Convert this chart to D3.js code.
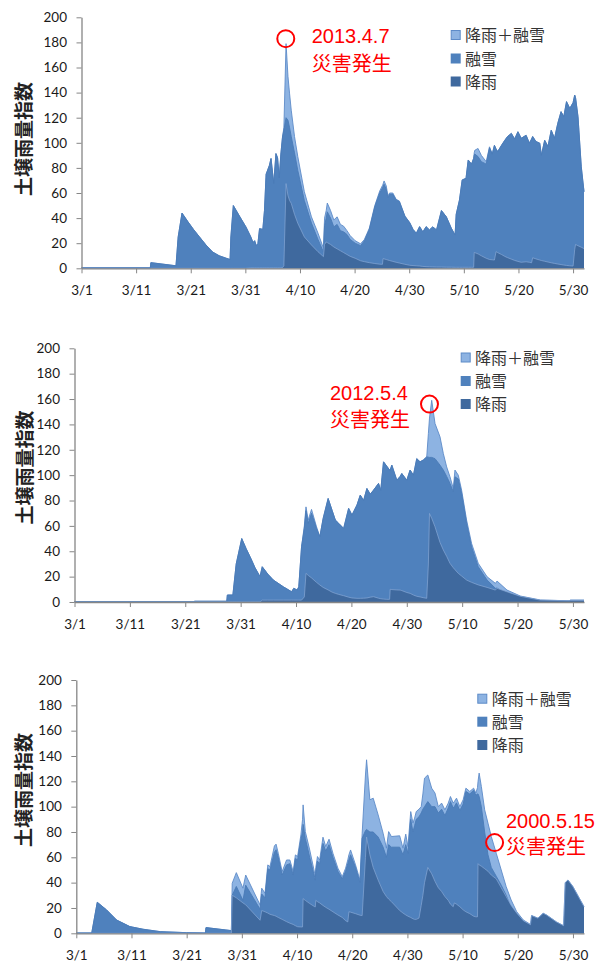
<!DOCTYPE html>
<html>
<head>
<meta charset="utf-8">
<script src="https://cdn.jsdelivr.net/npm/d3@7"></script>
<style>
  html, body { margin: 0; padding: 0; background: #fff; }
  svg { display: block; }
</style>
</head>
<body>
<svg id="chart" width="597" height="965"></svg>
<script>
// ---- shared axis definitions ----
const tickDays = [0, 10, 20, 30, 40, 50, 60, 70, 80, 90];
const tickLabels = ["3/1", "3/11", "3/21", "3/31", "4/10", "4/20", "4/30", "5/10", "5/20", "5/30"];
const yTicks = [0, 20, 40, 60, 80, 100, 120, 140, 160, 180, 200];
const seriesNames = ["降雨＋融雪", "融雪", "降雨"];
const yTitle = "土壌雨量指数";

// ---- 2013 (days counted from 3/1 00:00) ----
const days2013 = [
  0, 12.6, 12.7, 17.3, 17.7, 18.4, 19.5, 20.5, 21.6, 22.8,
  24.0, 25.2, 26.5, 27.2, 27.35, 27.8, 29.0, 30.1, 31.0, 31.4,
  31.7, 32.0, 32.3, 32.6, 33.2, 33.5, 33.8, 34.4, 34.7, 35.2,
  35.6, 35.9, 36.2, 36.5, 36.8, 37.05, 37.45, 37.8, 38.1, 38.4,
  39.0, 39.6, 40.8, 42.1, 43.3, 44.3, 44.5, 44.8, 45.0, 45.6,
  46.2, 46.8, 47.4, 48.0, 48.6, 49.2, 50.1, 51.1, 51.8, 52.7,
  53.7, 54.6, 55.1, 55.2, 55.4, 55.8, 56.1, 56.4, 57.0, 57.6,
  58.2, 59.2, 60.1, 60.7, 61.3, 61.9, 62.5, 63.1, 63.7, 64.3,
  65.0, 65.9, 66.8, 67.7, 68.4, 68.6, 69.2, 69.7, 70.4, 70.8,
  71.4, 71.8, 71.9, 72.0, 72.6, 73.2, 74.1, 74.7, 75.2, 75.6,
  75.9, 76.2, 76.9, 77.5, 78.0, 78.7, 79.3, 79.9, 80.5, 81.4,
  82.0, 82.4, 82.6, 83.2, 83.9, 84.2, 84.8, 85.4, 86.0, 86.6,
  87.2, 87.8, 88.3, 88.8, 89.4, 90.0, 90.3, 90.45, 90.9, 91.5,
  92.0
];
const total2013 = [
  0.4, 0.4, 4.5, 2, 25, 44, 37, 31, 25, 18.5,
  13, 10, 8, 7, 25, 50, 41, 33, 25, 20.5,
  22, 18, 19.7, 31.6, 31, 46, 75, 82, 87.5, 67.5,
  91.4, 88, 72, 91, 104.6, 112, 179, 153, 139, 126,
  105, 89, 61, 41, 28, 16, 40, 46, 52, 46,
  38.5, 41, 35, 33.5, 30, 26, 22, 19.5, 23, 32,
  50, 61.6, 66, 67, 69.6, 65.6, 57.6, 60, 60, 55,
  53.6, 41.6, 36.3, 31, 27.9, 33.2, 29, 33.2, 30.6, 33,
  30.6, 46, 41, 32, 26.5, 43, 54.4, 70.4, 71.7, 86.3,
  83, 87.6, 92, 94, 95.5, 90, 85, 96.8, 91, 98,
  95, 93, 98, 102, 105, 107.5, 103, 108.8, 103.6, 106,
  99.7, 103, 105, 101, 99.7, 90, 102, 97, 110, 103.6,
  115.5, 124.8, 120.8, 132.8, 127.4, 132, 138, 136, 120.8, 80.9,
  61
];
const snow2013 = [
  0.4, 0.4, 4.5, 2, 25, 44, 37, 31, 25, 18.5,
  13, 10, 8, 7, 25, 50, 41, 33, 25, 20.5,
  22, 18, 19.7, 31.6, 31, 46, 75, 82, 87.5, 67.5,
  91.4, 88, 72, 91, 104.6, 110, 120, 118, 112, 105,
  92, 78, 54, 36, 23, 13, 34, 40, 45, 40,
  33, 35, 30, 29, 27, 23, 20, 18, 22, 31,
  49, 60, 64, 65, 67, 63, 56, 59, 59, 54.5,
  53, 41.6, 36.3, 31, 27.9, 33.2, 29, 33.2, 30.6, 33,
  30.6, 46, 41, 32, 26.5, 43, 54.4, 70.4, 71.7, 86.3,
  83, 87.6, 90, 91, 89, 85, 83, 96, 91, 98,
  95, 93, 98, 102, 105, 107.5, 103, 108.8, 103.6, 106,
  99.7, 103, 105, 101, 99.7, 90, 102, 97, 110, 103.6,
  115.5, 124.8, 120.8, 132.8, 127.4, 132, 138, 136, 120.8, 80.9,
  61
];
const rain2013 = [
  0, 0, 0, 0, 0, 0, 0, 0, 0, 0,
  0, 0, 0, 0, 0, 0, 0, 0, 0.3, 0.3,
  0.3, 0.3, 0.3, 0.3, 0.3, 0.3, 0.3, 0.3, 0.3, 0.3,
  0.3, 0.3, 0.3, 0.3, 0.5, 2, 67.5, 58, 54, 51.8,
  43, 35.9, 25, 18.6, 13.2, 9.3, 19, 21, 20.5, 19,
  17, 15.5, 14, 12.5, 11, 9.5, 8, 6, 5.3, 4.5,
  3.8, 3.3, 3.2, 7.7, 7.5, 7, 6.6, 6.2, 5.5, 4.8,
  4.2, 3.2, 2.4, 2.2, 2, 1.8, 1.5, 1.3, 1.2, 1.1,
  1, 1, 0.9, 0.9, 0.8, 0.8, 0.8, 0.8, 0.8, 0.8,
  0.8, 0.8, 12.7, 12.5, 11.5, 10, 8, 7, 6.8, 6.6,
  13.3, 12.5, 11, 9.5, 8.5, 7.3, 6.3, 5.5, 4.8, 5.2,
  4.8, 4.4, 8.4, 7.5, 6.6, 6.2, 5.6, 5, 4.4, 3.9,
  3.4, 3, 2.6, 2.3, 2, 1.8, 15, 19, 18, 16.8,
  15.7
];

// ---- 2012 ----
const days2012 = [
  0, 21.6, 21.7, 27.5, 27.6, 28.6, 29.2, 30.2, 31.0, 31.7,
  32.6, 33.5, 33.9, 34.9, 35.9, 37.7, 39.2, 39.6, 40.2, 40.5,
  41.0, 41.5, 41.8, 42.2, 42.8, 43.7, 44.3, 44.9, 45.8, 46.5,
  47.1, 47.7, 48.6, 49.5, 50.1, 51.0, 51.6, 52.2, 52.8, 53.4,
  54.0, 54.9, 55.3, 55.8, 56.4, 56.9, 57.0, 57.3, 58.2, 58.8,
  59.1, 60.0, 60.6, 61.2, 61.8, 62.4, 63.0, 63.6, 63.9, 64.1,
  64.5, 65.1, 66.0, 66.6, 67.2, 67.8, 68.4, 68.7, 69.3, 69.9,
  70.8, 71.7, 72.9, 74.5, 76.0, 76.3, 78.1, 80.5, 84.1, 88.9,
  89.4, 89.5, 92.0
];
const total2012 = [
  0.3, 0.3, 0.6, 0.6, 5.5, 5.5, 30, 50, 42, 35.7,
  27, 20, 27.8, 22, 17.3, 12, 8.1, 10.8, 9.4, 12,
  43.5, 60, 75, 64.6, 73, 59.3, 51.4, 65.9, 81.6, 72.4,
  64.6, 62, 58, 73.8, 68.5, 76.4, 84.3, 80, 89.5, 85,
  88.2, 93.5, 88, 110.5, 107, 104, 104, 107.9, 96, 99,
  101.3, 96, 104, 100, 113, 110.5, 112, 114.4, 132.8, 145,
  159, 140.7, 130.2, 117, 106.5, 98.7, 89.5, 104, 100, 88.2,
  64.6, 46.2, 30.5, 19.9, 14.7, 16.5, 9.4, 4.7, 1.6, 1,
  1, 1.6, 1.6
];
const snow2012 = [
  0.3, 0.3, 0.6, 0.6, 5.5, 5.5, 30, 50, 42, 35.7,
  27, 20, 27.8, 22, 17.3, 12, 8.1, 10.8, 9.4, 12,
  43.5, 58, 72, 62, 70, 58, 51.4, 65.9, 81.6, 72.4,
  64.6, 62, 58, 73.8, 68.5, 76.4, 84.3, 80, 89.5, 85,
  88.2, 93.5, 88, 110.5, 107, 104, 104, 107.9, 96, 99,
  101.3, 96, 104, 100, 113, 110.5, 112, 114.4, 114.2, 114,
  114, 113, 107.9, 104, 99, 93.5, 86.9, 98.7, 97, 85.6,
  62, 43.5, 27.8, 17.3, 10.8, 11, 6, 3, 1, 0.5,
  0.5, 1, 1
];
const rain2012 = [
  0, 0, 0, 0, 0, 0, 0, 0, 0, 0,
  0, 0, 1.5, 1.5, 1.5, 1.5, 1.5, 1.5, 1.5, 1.5,
  1.5, 4, 22.6, 21, 19, 15.5, 13.4, 11.5, 9.5, 7.8,
  6.8, 6, 5, 3.8, 3.2, 2.9, 2.9, 3, 3.2, 3.8,
  4.2, 3, 2.6, 2.3, 2.1, 2.1, 10, 9.8, 9.5, 9.4,
  9, 7.5, 6.8, 5.5, 4.5, 4, 3.4, 2.9, 30, 69.8,
  66, 59.3, 47, 41, 36, 30.5, 27, 25.5, 22.6, 20.5,
  17.3, 15.5, 13.5, 11.5, 9.4, 10.8, 8, 4.5, 1.5, 1,
  1, 1.2, 1.2
];

// ---- 2000 ----
const days2000 = [
  0, 2.8, 3.8, 5.5, 7.3, 9.7, 12.1, 15.2, 20.0, 23.4,
  23.5, 28.1, 28.25, 29.0, 30.2, 30.7, 33.3, 33.6, 34.2, 34.7,
  35.1, 35.9, 36.2, 36.6, 37.3, 38.1, 38.7, 39.3, 39.7, 40.1,
  40.7, 41.0, 41.1, 41.5, 42.3, 43.2, 43.3, 43.4, 43.7, 44.1,
  44.7, 45.2, 45.8, 46.5, 47.4, 48.2, 48.8, 49.2, 49.4, 49.7,
  50.6, 51.4, 51.8, 52.4, 52.6, 53.2, 53.8, 54.7, 55.6, 56.2,
  56.6, 57.1, 58.6, 59.2, 59.7, 60.1, 60.6, 61.0, 61.3, 61.6,
  62.1, 62.5, 62.8, 63.1, 63.7, 64.4, 65.0, 65.6, 66.2, 66.8,
  67.4, 67.8, 68.3, 68.5, 68.9, 69.5, 70.1, 70.6, 71.3, 72.0,
  72.4, 72.7, 72.8, 73.0, 73.4, 74.0, 74.6, 75.2, 76.1, 77.0,
  77.9, 78.8, 79.8, 81.0, 82.3, 82.5, 83.6, 83.8, 84.6, 85.2,
  87.0, 88.3, 88.6, 89.1, 90.0, 92.0
];
const total2000 = [
  0.3, 0.3, 24.5, 18.4, 10.5, 5.3, 3.2, 1.3, 0.5, 0.3,
  4.5, 2.1, 39.5, 47.9, 35.6, 46, 22.4, 35.6, 31.6, 54,
  52.7, 69, 70.4, 63.2, 48.7, 57.9, 57.9, 48.7, 61.9, 60.6,
  77.7, 90, 101.4, 80.3, 65.8, 47.4, 44.7, 52, 60.6, 57.9,
  75.9, 68.5, 74.3, 63.2, 51.4, 44.7, 51.4, 58, 62, 65.8,
  54, 42.1, 79, 125, 137, 105.4, 106.7, 93.5, 79, 67.2,
  80.3, 76.4, 77, 67.2, 78.3, 68.5, 96.1, 87, 90.9, 96.1,
  98, 100, 110, 122.5, 125, 114.6, 110.7, 100, 102.8, 97.5,
  102.8, 108, 102.8, 104, 106.7, 100, 105.4, 114.6, 112, 114.6,
  110.7, 115, 120, 126.5, 115.9, 97.5, 87, 76.4, 63.2, 50,
  36.8, 26.3, 17.1, 10.5, 7, 14, 12, 12.5, 15.8, 14.5,
  9, 6, 40, 42.1, 36.8, 21
];
const snow2000 = [
  0.3, 0.3, 24.5, 18.4, 10.5, 5.3, 3.2, 1.3, 0.5, 0.3,
  4.5, 2.1, 30, 37, 26, 38, 19, 31, 28, 51,
  50, 64, 66, 60, 46, 54, 55, 46, 59, 58,
  74, 80, 86, 75, 60, 44, 42, 49, 57, 55,
  71, 65, 70, 60, 49, 43, 49, 55, 58, 62,
  52, 40, 75, 81, 82, 80, 80, 76, 68, 60,
  70, 68, 68, 62, 70, 63, 90, 80, 85, 90,
  92, 95, 98, 100, 104, 100, 100, 95, 98, 93,
  99, 104, 99, 100, 103, 97, 102, 112, 110, 113,
  109, 110, 110, 108, 100, 80, 62, 52, 45, 38,
  30, 20, 12, 7, 4, 4, 3, 3, 2.5, 2,
  1.5, 1, 1, 1, 1, 0.5
];
const rain2000 = [
  0, 0, 0, 0, 0, 0, 0, 0, 0, 0,
  0, 0, 30, 28, 24, 22.5, 10.3, 18, 17, 16,
  15, 14, 13.5, 12.5, 11, 9.2, 8, 7, 6, 5.2,
  5, 5, 27.4, 26, 23.5, 21, 20.8, 26, 25, 24,
  22, 20.5, 19, 17, 14.5, 12.5, 10, 9, 17, 16.7,
  15.5, 14.3, 14, 60, 76, 62, 52, 42, 33, 29,
  27, 25, 18, 16, 14.5, 13.5, 12.5, 11.5, 11, 11,
  12, 22, 30, 40, 52, 47, 41, 36, 33, 29,
  26, 23, 21, 24, 23, 21, 18.5, 17, 15.5, 13.5,
  13, 13, 55, 54, 53, 51, 49, 46, 43, 36,
  29, 22, 16, 10, 6.8, 14, 12, 12.5, 15.8, 14.5,
  9, 6, 40, 42.1, 36.8, 21
];

// ---- disaster events (day, index value at the marker, label) ----
const eventDays = [37.4, 64.1, 75.8];
const eventValues = [183, 156, 71.6];
const eventLabels = ["2013.4.7", "2012.5.4", "2000.5.15"];
const eventNote = "災害発生";

// ---- styling ----
const FONT_NUM = "Lato, 'Open Sans', 'Liberation Sans', sans-serif";
const FONT_DATE = "'Liberation Sans', Arial, sans-serif";
const FONT_JP = "'Noto Sans CJK JP', 'Noto Sans', sans-serif";
const FILL = ["#8DB3E2", "#4F81BD", "#3F699E"];
const EDGE = ["#5D8BC8", "#4A7BB7", "#86A8D6"];
const AXIS = "#868686";

// ---- panel layout (pixel frame of each chart) ----
const panels = [
  { days: days2013, series: [total2013, snow2013, rain2013], left: 81.5, top: 17.3, bottom: 268.3,
    titleX: 22.5, titleY: 139, legX: 450.7, legTextX: 465, legY: [35, 58.5, 81.5],
    ev: 0, evTextX: 311.7, evBase: [43, 71] },
  { days: days2012, series: [total2012, snow2012, rain2012], left: 74.5, top: 348.3, bottom: 602,
    titleX: 23, titleY: 467.5, legX: 460.7, legTextX: 475, legY: [357.5, 381, 404],
    ev: 1, evTextX: 330, evBase: [400, 426.5] },
  { days: days2000, series: [total2000, snow2000, rain2000], left: 76.3, top: 680, bottom: 933.3,
    titleX: 22.5, titleY: 790, legX: 477.3, legTextX: 491.7, legY: [698.7, 721.7, 745],
    ev: 2, evTextX: 506, evBase: [827.5, 853.5] }
];
const plotRight = 584;

const svg = d3.select("#chart");

panels.forEach(p => {
  const x = d3.scaleLinear().domain([0, 92]).range([p.left, plotRight]);
  const y = d3.scaleLinear().domain([0, 200]).range([p.bottom, p.top]);
  const g = svg.append("g");
  const idx = d3.range(p.days.length);

  // overlapping areas: total behind, snowmelt, then rainfall in front
  p.series.forEach((vals, k) => {
    const area = d3.area()
      .x(i => x(p.days[i]))
      .y0(y(0))
      .y1(i => y(vals[i]));
    const line = d3.line()
      .x(i => x(p.days[i]))
      .y(i => y(vals[i]));
    g.append("path").datum(idx).attr("d", area).attr("fill", FILL[k]);
    g.append("path").datum(idx).attr("d", line)
      .attr("fill", "none").attr("stroke", EDGE[k])
      .attr("stroke-width", k === 2 ? 0.7 : 0.9)
      .attr("stroke-linejoin", "round");
  });

  // axes
  const yAxis = d3.axisLeft(y).tickValues(yTicks).tickSize(5).tickSizeOuter(0).tickPadding(9.5);
  const xAxis = d3.axisBottom(x).tickValues(tickDays).tickFormat((d, i) => tickLabels[i])
    .tickSize(5).tickSizeOuter(0).tickPadding(12);

  const ya = g.append("g").attr("transform", `translate(${p.left},0)`).call(yAxis);
  const xa = g.append("g").attr("transform", `translate(0,${p.bottom})`).call(xAxis);
  [ya, xa].forEach(a => {
    a.select(".domain").attr("stroke", AXIS).attr("stroke-width", 1.3);
    a.selectAll(".tick line").attr("stroke", AXIS).attr("stroke-width", 1);
    a.selectAll(".tick text").attr("fill", "#1a1a1a")
      .style("font-family", FONT_NUM).style("font-size", "13.5px");
  });

  // y-axis title
  g.append("text")
    .attr("transform", `translate(${p.titleX},${p.titleY}) rotate(-90)`)
    .attr("text-anchor", "middle")
    .attr("dominant-baseline", "central")
    .style("font-family", FONT_JP).style("font-size", "19px").style("font-weight", "700")
    .attr("fill", "#222")
    .text(yTitle);

  // legend
  seriesNames.forEach((name, k) => {
    const cy = p.legY[k];
    const r = g.append("rect")
      .attr("x", p.legX).attr("y", cy - 5).attr("width", 10).attr("height", 10)
      .attr("fill", FILL[k]);
    if (k === 0) r.attr("stroke", "#5D8BC8").attr("stroke-width", 1)
      .attr("x", p.legX + 0.5).attr("y", cy - 4.5).attr("width", 9).attr("height", 9);
    g.append("text")
      .attr("x", p.legTextX).attr("y", cy + 6)
      .style("font-family", FONT_JP).style("font-size", "16px")
      .attr("fill", "#333")
      .text(name);
  });

  // disaster marker and note
  const e = p.ev;
  g.append("circle")
    .attr("cx", x(eventDays[e])).attr("cy", y(eventValues[e])).attr("r", 8.5)
    .attr("fill", "none").attr("stroke", "#ff0000").attr("stroke-width", 2);
  g.append("text")
    .attr("x", p.evTextX).attr("y", p.evBase[0])
    .style("font-family", FONT_DATE).style("font-size", "20px").attr("fill", "#ff0000")
    .text(eventLabels[e]);
  g.append("text")
    .attr("x", p.evTextX).attr("y", p.evBase[1])
    .style("font-family", FONT_JP).style("font-size", "20px").attr("fill", "#ff0000")
    .text(eventNote);
});
</script>
</body>
</html>
